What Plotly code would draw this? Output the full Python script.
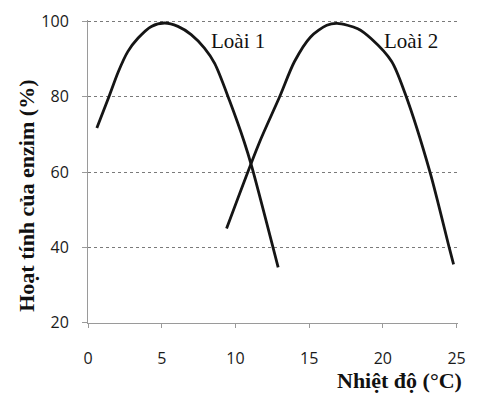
import plotly.graph_objects as go

# Data
temp1 = [0.6, 1.4, 2.05, 2.7, 3.4, 4.3, 5.2, 6.1, 7.0, 7.9, 8.6, 9.6, 10.6, 11.1, 12.9]
act1 = [71.7, 79.8, 86.6, 92, 95.6, 98.7, 99.6, 98.7, 96.5, 92.9, 88.8, 79, 68, 61.6, 34.7]
temp2 = [9.4, 11.6, 13.0, 14.0, 15.1, 16.2, 16.9, 18.3, 19.2, 20.6, 21.5, 23.2, 24.5, 24.8]
act2 = [45, 67.6, 80, 89.3, 95.9, 99, 99.5, 98.1, 95.5, 89.4, 81, 60, 40, 35.5]
x_ticks = [0, 5, 10, 15, 20, 25]
y_ticks = [20, 40, 60, 80, 100]
series_names = ["Loài 1", "Loài 2"]

fig = go.Figure()
for t, a in [(temp1, act1), (temp2, act2)]:
    fig.add_trace(go.Scatter(x=t, y=a, mode="lines",
                             line=dict(color="#151515", width=2.8, shape="spline", smoothing=0.8),
                             showlegend=False, hoverinfo="skip"))

serif = "Liberation Serif"
sans = "Open Sans"

fig.add_annotation(x=10.2, y=94.7, text=series_names[0], showarrow=False,
                   font=dict(family=serif, size=21, color="#111"))
fig.add_annotation(x=21.9, y=94.7, text=series_names[1], showarrow=False,
                   font=dict(family=serif, size=21, color="#111"))

fig.add_annotation(xref="paper", yref="paper", x=1, y=0, xanchor="right", yanchor="top",
                   xshift=6, yshift=-43, text="<b>Nhiệt độ (°C)</b>", showarrow=False,
                   font=dict(family=serif, size=22, color="#111"))
fig.add_annotation(xref="paper", yref="paper", x=0, y=0.42, xanchor="center", yanchor="middle",
                   xshift=-61, textangle=-90, text="<b>Hoạt tính của enzim (%)</b>", showarrow=False,
                   font=dict(family=serif, size=22, color="#111"))

fig.update_xaxes(range=[0, 25.1], tickvals=x_ticks, showgrid=False, zeroline=False,
                 automargin=False,
                 showline=True, linecolor="#9a9a9a", linewidth=1,
                 ticks="outside", ticklen=4, tickcolor="#9a9a9a",
                 ticklabelstandoff=17,
                 tickfont=dict(family=sans, size=16, color="#1a1a1a"))
fig.update_yaxes(range=[19.9, 100.4], tickvals=y_ticks, showgrid=True, gridcolor="#7a7a7a",
                 griddash="dot", gridwidth=1, zeroline=False,
                 automargin=False,
                 showline=True, linecolor="#9a9a9a", linewidth=1,
                 ticks="outside", ticklen=5, tickcolor="#9a9a9a",
                 ticklabelstandoff=10,
                 tickfont=dict(family=sans, size=16, color="#1a1a1a"))

# page body has an 8px default margin, so the figure is sized to fit the 478x399 window
fig.update_layout(width=470, height=391, margin=dict(l=80, r=20, t=12, b=76),
                  plot_bgcolor="white", paper_bgcolor="white")
fig.write_html("out.html")
